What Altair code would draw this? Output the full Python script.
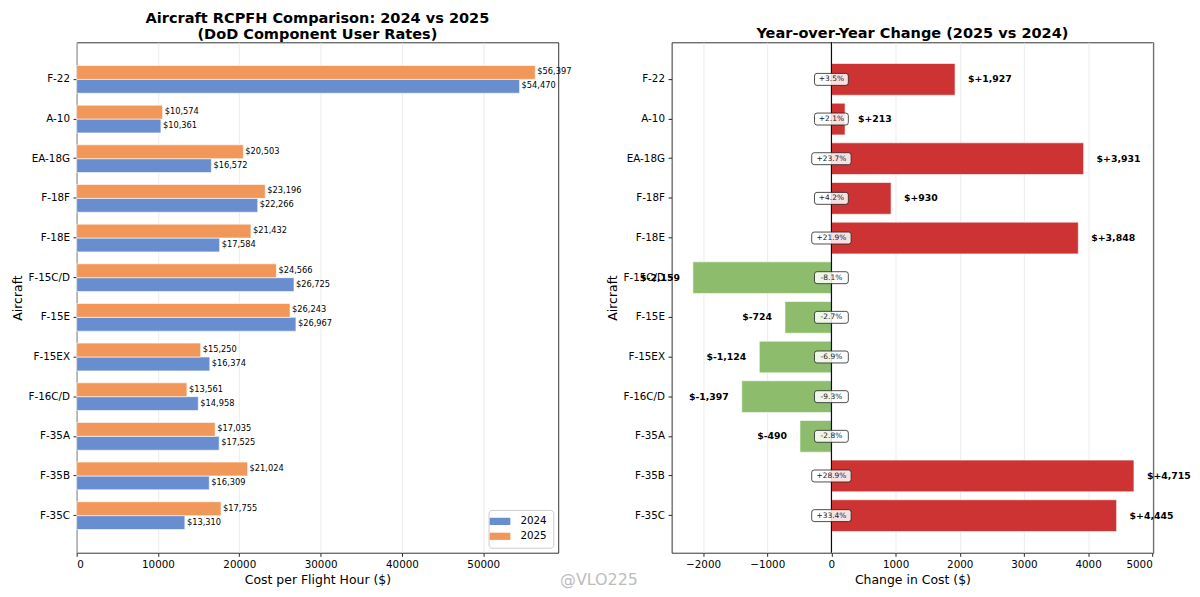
import altair as alt
import pandas as pd

aircraft = ["F-22", "A-10", "EA-18G", "F-18F", "F-18E", "F-15C/D", "F-15E",
            "F-15EX", "F-16C/D", "F-35A", "F-35B", "F-35C"]
cost_2024 = [54470, 10361, 16572, 22266, 17584, 26725, 26967, 16374, 14958, 17525, 16309, 13310]
cost_2025 = [56397, 10574, 20503, 23196, 21432, 24566, 26243, 15250, 13561, 17035, 21024, 17755]
years = ["2024", "2025"]
left_ticks = [0, 10000, 20000, 30000, 40000, 50000]
right_ticks = [-2000, -1000, 0, 1000, 2000, 3000, 4000, 5000]

FONT = "DejaVu Sans"
BLUE = "#698ED0"
ORANGE = "#F1975A"
RED = "#CD3333"
GREEN = "#8DBD6C"

long_df = pd.DataFrame({
    "aircraft": aircraft * 2,
    "year": [years[0]] * len(aircraft) + [years[1]] * len(aircraft),
    "cost": cost_2024 + cost_2025,
})
wide_df = pd.DataFrame({"aircraft": aircraft, "c2024": cost_2024, "c2025": cost_2025})

W, H = 484, 513

ylab_axis = dict(title="Aircraft", labelFontSize=10.4, titleFontSize=12.5, titleFontWeight="normal",
                 titlePadding=4, tickSize=3.6, labelPadding=3.6, domain=False, grid=False,
                 labelColor="black", titleColor="black", tickColor="#222")

# ---------- left panel ----------
yl = alt.Y("aircraft:N", sort=aircraft,
           scale=alt.Scale(paddingInner=0, paddingOuter=0.435), axis=alt.Axis(**ylab_axis))
yoff = alt.YOffset("year:N", sort=["2025", "2024"],
                   scale=alt.Scale(paddingInner=0, paddingOuter=0.4286))
xl = alt.X("cost:Q", scale=alt.Scale(domain=[0, 59217], nice=False, zero=True),
           axis=alt.Axis(title="Cost per Flight Hour ($)", values=left_ticks, format="d",
                         labelFontSize=10.4, titleFontSize=12.5, titleFontWeight="normal",
                         tickSize=3.6, labelPadding=3.6, titlePadding=3, domain=False,
                         grid=True, gridColor="#e6e6e6", gridWidth=0.8,
                         labelColor="black", titleColor="black", tickColor="#222"))

leg_path = "M-2,-0.7L2,-0.7L2,0.7L-2,0.7Z"
left_base = alt.Chart(long_df)
left_bars = left_base.mark_bar(stroke="white", strokeWidth=0.6).encode(
    y=yl, yOffset=yoff, x=xl,
    color=alt.Color("year:N", scale=alt.Scale(domain=years, range=[BLUE, ORANGE]),
                    legend=alt.Legend(title=None, orient="bottom-right", offset=5,
                                      fillColor="white", strokeColor="#cccccc", cornerRadius=3,
                                      padding=6, symbolType=leg_path, symbolSize=108,
                                      symbolStrokeWidth=0, symbolOpacity=1, labelOffset=15,
                                      labelFontSize=10.4, labelFont=FONT, labelColor="black",
                                      rowPadding=4)),
)
left_text = left_base.transform_calculate(
    lab="'$' + format(datum.cost, ',')"
).mark_text(align="left", baseline="middle", dx=2, fontSize=8.3, font=FONT, color="black").encode(
    y=yl, yOffset=yoff, x=xl, text="lab:N")

watermark = alt.Chart(pd.DataFrame({"t": ["@VLO225"]})).mark_text(
    fontSize=16, font=FONT, color="#bdbdbd", align="center", baseline="alphabetic"
).encode(text="t:N", x=alt.value(525), y=alt.value(545))

left = alt.layer(left_bars, left_text, watermark).properties(
    width=W, height=H,
    title=alt.Title(["Aircraft RCPFH Comparison: 2024 vs 2025", "(DoD Component User Rates)"],
                    fontSize=14.6, font=FONT, fontWeight="bold", anchor="middle", offset=1,
                    lineHeight=16, color="black"))

# ---------- right panel ----------
yr = alt.Y("aircraft:N", sort=aircraft,
           scale=alt.Scale(paddingInner=0.2, paddingOuter=0.535), axis=alt.Axis(**ylab_axis))
xr = alt.X("diff:Q", scale=alt.Scale(domain=[-2490, 5015], nice=False, zero=False),
           axis=alt.Axis(title="Change in Cost ($)", values=right_ticks, format="d",
                         labelFontSize=10.4, titleFontSize=12.5, titleFontWeight="normal",
                         tickSize=3.6, labelPadding=3.6, titlePadding=3, domain=False,
                         grid=True, gridColor="#e6e6e6", gridWidth=0.8,
                         labelColor="black", titleColor="black", tickColor="#222"))

right_base = alt.Chart(wide_df).transform_calculate(
    diff="datum.c2025 - datum.c2024"
).transform_calculate(
    pct="datum.diff / datum.c2024 * 100",
    dlab="'$' + (datum.diff < 0 ? '-' : '+') + format(abs(datum.diff), ',')",
).transform_calculate(
    plab="(datum.pct < 0 ? '-' : '+') + format(abs(datum.pct), '.1f') + '%'"
)

right_bars = right_base.mark_bar(stroke="white", strokeWidth=0.6).encode(
    y=yr, x=xr,
    color=alt.condition(alt.datum.diff > 0, alt.value(RED), alt.value(GREEN)))

zero_rule = alt.Chart(pd.DataFrame({"diff": [0]})).mark_rule(color="black", strokeWidth=1.1).encode(
    x=alt.X("diff:Q"))

box_path_expr = (
    "'M' + (-1 + datum.rr) + ',' + (-datum.hh) + 'L' + (1 - datum.rr) + ',' + (-datum.hh)"
    " + 'Q1,' + (-datum.hh) + ' 1,' + (-datum.hh + datum.rr)"
    " + 'L1,' + (datum.hh - datum.rr)"
    " + 'Q1,' + datum.hh + ' ' + (1 - datum.rr) + ',' + datum.hh"
    " + 'L' + (-1 + datum.rr) + ',' + datum.hh"
    " + 'Q-1,' + datum.hh + ' -1,' + (datum.hh - datum.rr)"
    " + 'L-1,' + (-datum.hh + datum.rr)"
    " + 'Q-1,' + (-datum.hh) + ' ' + (-1 + datum.rr) + ',' + (-datum.hh) + 'Z'"
)
boxes = right_base.transform_calculate(
    bw="5.6 * length(datum.plab) + 6", zero="0"
).transform_calculate(
    hh="12 / datum.bw", rr="5 / datum.bw", bsize="datum.bw * datum.bw"
).transform_calculate(
    bpath=box_path_expr
).mark_point(filled=True, fill="white", fillOpacity=0.85, stroke="#222", strokeWidth=0.8,
             strokeOpacity=1, opacity=1).encode(
    y=yr, x=alt.X("zero:Q"),
    shape=alt.Shape("bpath:N", scale=None),
    size=alt.Size("bsize:Q", scale=None),
)

pct_text = right_base.transform_calculate(zero="0").mark_text(
    align="center", baseline="middle", fontSize=7.5, font=FONT, color="#222"
).encode(y=yr, x=alt.X("zero:Q"), text="plab:N")

pos_text = right_base.transform_filter("datum.diff > 0").mark_text(
    align="left", baseline="middle", dx=13, fontSize=9.4, fontWeight="bold", font=FONT, color="black"
).encode(y=yr, x=xr, text="dlab:N")
neg_text = right_base.transform_filter("datum.diff < 0").mark_text(
    align="right", baseline="middle", dx=-13, fontSize=9.4, fontWeight="bold", font=FONT, color="black"
).encode(y=yr, x=xr, text="dlab:N")

right = alt.layer(right_bars, zero_rule, boxes, pct_text, pos_text, neg_text).properties(
    width=W, height=H,
    title=alt.Title("Year-over-Year Change (2025 vs 2024)", fontSize=14.6, font=FONT,
                    fontWeight="bold", anchor="middle", offset=1, color="black"))

chart = alt.hconcat(left, right, spacing=114, bounds="flush").resolve_legend(
    color="independent"
).resolve_scale(color="independent").properties(
    padding={"left": 2, "top": 0, "right": 0, "bottom": 0}
).configure(font=FONT).configure_view(stroke="#333", strokeWidth=1).configure_axis(
    labelFont=FONT, titleFont=FONT)

chart.save("out.html", embed_options={"renderer": "svg", "actions": False})
